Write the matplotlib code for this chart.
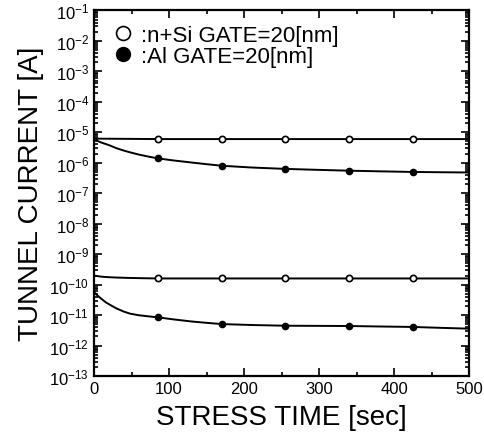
import matplotlib
matplotlib.use("Agg")
import matplotlib.pyplot as plt
from matplotlib.lines import Line2D
from matplotlib.ticker import LogLocator, NullFormatter, MultipleLocator

plt.rcParams['font.family'] = ['Liberation Sans', 'DejaVu Sans']
plt.rcParams['mathtext.fontset'] = 'custom'
plt.rcParams['mathtext.rm'] = 'Liberation Sans'

# measured points (markers)
t_meas = [85, 170, 255, 340, 425]
nsi_hi_meas = [6.0e-6, 6.0e-6, 6.0e-6, 6.0e-6, 6.0e-6]
al_hi_meas = [1.4e-6, 8.0e-7, 6.3e-7, 5.5e-7, 5.0e-7]
nsi_lo_meas = [1.6e-10, 1.6e-10, 1.6e-10, 1.6e-10, 1.6e-10]
al_lo_meas = [8.5e-12, 5.1e-12, 4.5e-12, 4.4e-12, 4.1e-12]

# traced curves
t_nsi_hi = [0, 85, 170, 255, 340, 425, 500]
nsi_hi = [6.2e-6, 6.0e-6, 6.0e-6, 6.0e-6, 6.0e-6, 6.0e-6, 6.0e-6]
t_nsi_lo = [0, 5, 10, 18, 28, 45, 65, 85, 170, 255, 340, 425, 500]
nsi_lo = [2.0e-10, 1.9e-10, 1.83e-10, 1.77e-10, 1.72e-10, 1.67e-10, 1.63e-10, 1.6e-10,
          1.6e-10, 1.6e-10, 1.6e-10, 1.6e-10, 1.6e-10]
t_al = [0, 3, 7, 12, 16, 21, 30, 40, 48, 60, 75, 85, 105, 130, 150, 170, 210, 255, 300,
        340, 380, 425, 460, 500]
al_hi = [6.0e-6, 5.5e-6, 4.9e-6, 4.4e-6, 4.1e-6, 3.7e-6, 3.0e-6, 2.5e-6, 2.2e-6, 1.85e-6,
         1.55e-6, 1.4e-6, 1.2e-6, 1.02e-6, 9.0e-7, 8.0e-7, 7.0e-7, 6.3e-7, 5.85e-7,
         5.5e-7, 5.25e-7, 5.0e-7, 4.9e-7, 4.8e-7]
al_lo = [5.8e-11, 4.8e-11, 3.9e-11, 3.1e-11, 2.6e-11, 2.2e-11, 1.65e-11, 1.3e-11, 1.12e-11,
         9.9e-12, 9.0e-12, 8.5e-12, 7.3e-12, 6.2e-12, 5.6e-12, 5.1e-12, 4.75e-12, 4.5e-12,
         4.45e-12, 4.4e-12, 4.25e-12, 4.1e-12, 3.85e-12, 3.6e-12]

legend_labels = [':n+Si GATE=20[nm]', ':Al GATE=20[nm]']

fig = plt.figure(figsize=(4.85, 4.39), dpi=100)
ax = fig.add_axes([0.194, 0.141, 0.773, 0.833])

lw = 1.4
for tx, ty in [(t_nsi_hi, nsi_hi), (t_nsi_lo, nsi_lo), (t_al, al_hi), (t_al, al_lo)]:
    ax.plot(tx, ty, color='black', lw=lw)

ms = 4.5
ax.plot(t_meas, nsi_hi_meas, 'o', ms=ms, mfc='white', mec='black', mew=1.2)
ax.plot(t_meas, nsi_lo_meas, 'o', ms=ms, mfc='white', mec='black', mew=1.2)
ax.plot(t_meas, al_hi_meas, 'o', ms=ms, mfc='black', mec='black')
ax.plot(t_meas, al_lo_meas, 'o', ms=ms, mfc='black', mec='black')

ax.set_yscale('log')
ax.set_xlim(0, 500)
ax.set_ylim(1e-13, 1e-1)
ax.yaxis.set_major_locator(LogLocator(base=10, numticks=20))
ax.yaxis.set_minor_locator(LogLocator(base=10, subs=range(2, 10), numticks=20))
ax.yaxis.set_minor_formatter(NullFormatter())
ax.xaxis.set_major_locator(MultipleLocator(100))
ax.xaxis.set_minor_locator(MultipleLocator(50))

ax.tick_params(which='both', direction='in', top=True, right=True, width=1.2)
ax.tick_params(which='major', length=6, labelsize=12)
ax.tick_params(which='minor', length=3)
for s in ax.spines.values():
    s.set_linewidth(1.6)

ax.set_xlabel('STRESS TIME [sec]', fontsize=20, labelpad=6)
ax.set_ylabel('TUNNEL CURRENT [A]', fontsize=20, labelpad=4)

handles = [
    Line2D([], [], marker='o', ls='none', ms=10, mfc='white', mec='black', mew=1.2),
    Line2D([], [], marker='o', ls='none', ms=10, mfc='black', mec='black'),
]
ax.legend(handles, legend_labels, loc='upper left', bbox_to_anchor=(0.025, 0.985),
          frameon=False, fontsize=16, handlelength=1.0, handletextpad=0.3,
          labelspacing=0.0, borderaxespad=0)

fig.savefig('out.png', dpi=100)
